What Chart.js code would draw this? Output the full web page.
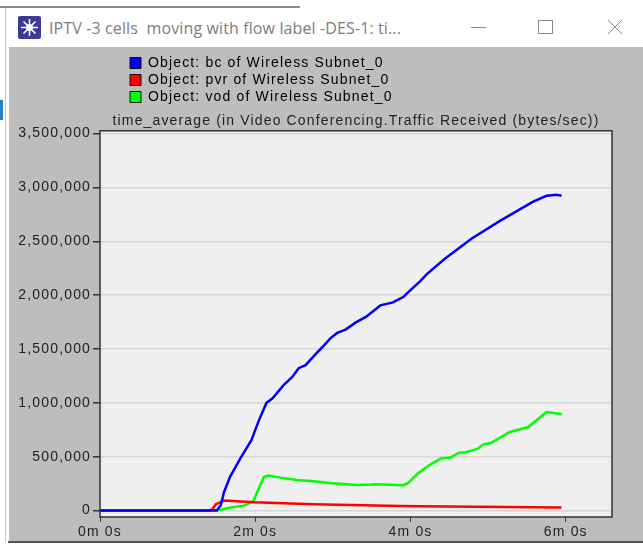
<!DOCTYPE html>
<html><head><meta charset="utf-8">
<script src="https://cdn.jsdelivr.net/npm/chart.js@4"></script>
<style>
html,body{margin:0;padding:0;background:#fff;width:643px;height:545px;overflow:hidden;font-family:"Liberation Sans",Arial,sans-serif}
#topline{position:absolute;left:0;top:6px;width:300px;height:2px;background:#8a8a8a}
#side{position:absolute;left:0;top:100px;width:3px;height:20px;background:#2a7fc9}
#frame{position:absolute;left:5px;top:8px;width:638px;height:534px;background:#fff;border-left:1px solid #ccc}
#panel{position:absolute;left:9px;top:47px;width:634px;height:494px;background:#bdbdbd}
#bottom{position:absolute;left:8px;top:541px;width:635px;height:2px;background:#555}
#caption{position:absolute;left:49px;top:17px;font:16px "Open Sans",sans-serif;color:#7d7d7d;white-space:pre;letter-spacing:.12px}
#btn{position:absolute;left:0;top:0}
canvas{position:absolute;left:0;top:0}
</style></head>
<body>
<div id="topline"></div><div id="side"></div><div id="frame"></div><div id="panel"></div><div id="bottom"></div>
<div id="caption">IPTV -3 cells  moving with flow label -DES-1: ti...</div>
<svg id="btn" width="643" height="47">
<rect x="18" y="16" width="23" height="23" rx="2" fill="#3b3a96"/>
<g stroke="#fff" stroke-width="1.5"><path d="M29.5 19V36M21 27.5H38M23.5 21.5L35.5 33.5M35.5 21.5L23.5 33.5"/></g>
<circle cx="29.5" cy="27.5" r="3.5" fill="#fff"/>
<g stroke="#8a8a8a" fill="none" stroke-width="1"><path d="M471 27.5H486"/><rect x="538.5" y="20.5" width="14" height="13"/><path d="M608 20L622 34M622 20L608 34"/></g></svg>
<canvas id="c" width="643" height="545"></canvas>
<script>
const seriesNames = ["Object: bc of Wireless Subnet_0","Object: pvr of Wireless Subnet_0","Object: vod of Wireless Subnet_0"];
const chartTitle = "time_average (in Video Conferencing.Traffic Received (bytes/sec))";
const yTickValues = [0,500000,1000000,1500000,2000000,2500000,3000000,3500000];
const xTickValues = [0,2,4,6];
const xTickLabels = ["0m 0s","2m 0s","4m 0s","6m 0s"];
const bcMinutes = [0,1.504,1.556,1.598,1.675,1.812,1.95,2.048,2.144,2.22,2.365,2.477,2.558,2.648,2.777,2.88,2.97,3.056,3.163,3.291,3.429,3.611,3.774,3.91,3.954,4.125,4.21,4.446,4.789,5.152,5.58,5.752,5.88,5.945];
const bcValues = [0,0,49000,173000,313000,490000,654000,840000,1000000,1040000,1164000,1241000,1322000,1350000,1452000,1530000,1600000,1650000,1680000,1745000,1800000,1905000,1933000,1985000,2016000,2131000,2195000,2340000,2526000,2690000,2868000,2923000,2933000,2923000];
const pvrMinutes = [0,1.4,1.449,1.491,1.598,1.983,2.75,3.868,4.125,5.945];
const pvrValues = [0,0,12000,58000,93000,77000,60000,43000,40000,28000];
const vodMinutes = [0,1.504,1.684,1.855,1.976,2.035,2.112,2.168,2.326,2.541,2.75,2.99,3.311,3.504,3.546,3.91,3.97,4.082,4.253,4.39,4.51,4.626,4.712,4.86,4.937,5.033,5.28,5.516,5.752,5.945];
const vodValues = [0,0,28000,46000,89000,189000,312000,325000,306000,284000,272000,253000,238000,242000,245000,236000,257000,337000,427000,483000,492000,538000,541000,572000,615000,627000,730000,776000,915000,894000];
const seriesColors = ["#0000ff","#ff0000","#00ff00"];
const pts = (xs,ys)=>xs.map((x,i)=>({x,y:ys[i]}));
const spacing = "1.15px";
const stage = {
  id:"stage",
  beforeLayout(chart){
    chart.ctx.letterSpacing = spacing;
    const lg = chart.legend;
    if(lg && !lg._narrow){
      lg._narrow = true;
      const f = lg.beforeFit ? lg.beforeFit.bind(lg) : ()=>{};
      lg.beforeFit = function(){ f(); this.maxWidth = 300; };
    }
  },
  afterLayout(chart){ chart.legend.left = 127; chart.legend.top = 53; },
  beforeDraw(chart){
    const c = chart.ctx, a = chart.chartArea;
    c.letterSpacing = spacing;
    c.save(); c.fillStyle = "#efefef"; c.fillRect(a.left,a.top,a.width,a.height); c.restore();
  },
  afterDraw(chart){
    const c = chart.ctx, a = chart.chartArea;
    c.save(); c.strokeStyle="#333"; c.lineWidth=1.5; c.strokeRect(a.left,a.top,a.width,a.height); c.restore();
  }
};
new Chart(document.getElementById("c"),{
  type:"line",
  data:{datasets:[
    {label:seriesNames[0],data:pts(bcMinutes,bcValues),borderColor:seriesColors[0],backgroundColor:seriesColors[0]},
    {label:seriesNames[1],data:pts(pvrMinutes,pvrValues),borderColor:seriesColors[1],backgroundColor:seriesColors[1]},
    {label:seriesNames[2],data:pts(vodMinutes,vodValues),borderColor:seriesColors[2],backgroundColor:seriesColors[2]}
  ]},
  options:{
    responsive:false,animation:false,
    devicePixelRatio:1,
    layout:{padding:{left:0,right:31,top:52,bottom:0}},
    elements:{point:{radius:0},line:{borderWidth:2.5,tension:0}},
    plugins:{
      tooltip:{enabled:false},
      legend:{position:"top",align:"start",fullSize:false,
        labels:{font:{family:"Liberation Sans",size:14},color:"#222",boxWidth:11,boxHeight:11,padding:3,
          generateLabels:(ch)=>ch.data.datasets.map((d,i)=>({text:d.label,fillStyle:d.borderColor,strokeStyle:"#111",lineWidth:1,datasetIndex:i}))}},
      title:{display:true,text:chartTitle,fullSize:false,weight:500,color:"#222",font:{family:"Liberation Sans",size:14,weight:"normal"},padding:{top:0,bottom:1}}
    },
    scales:{
      x:{type:"linear",min:0,max:6.595,
        afterBuildTicks:(s)=>{s.ticks=xTickValues.map(v=>({value:v}));},
        afterFit:(s)=>{s.height=28;},
        border:{display:false},
        grid:{drawOnChartArea:false,drawTicks:true,tickLength:5,color:"#333"},
        ticks:{color:"#222",font:{family:"Liberation Sans",size:14},maxRotation:0,autoSkip:false,padding:2,
          callback:(v)=>xTickLabels[xTickValues.indexOf(v)]}},
      y:{type:"linear",min:-59500,max:3526000,
        afterBuildTicks:(s)=>{s.ticks=yTickValues.map(v=>({value:v}));},
        afterFit:(s)=>{s.width=100;},
        border:{display:false},
        grid:{color:"#d6d6d6",lineWidth:1.5,tickColor:"#333",tickLength:7,drawTicks:true},
        ticks:{color:"#222",font:{family:"Liberation Sans",size:14},autoSkip:false,padding:2,
          callback:(v)=>v.toLocaleString("en-US")}}
    }
  },
  plugins:[stage]
});
</script>
</body></html>
